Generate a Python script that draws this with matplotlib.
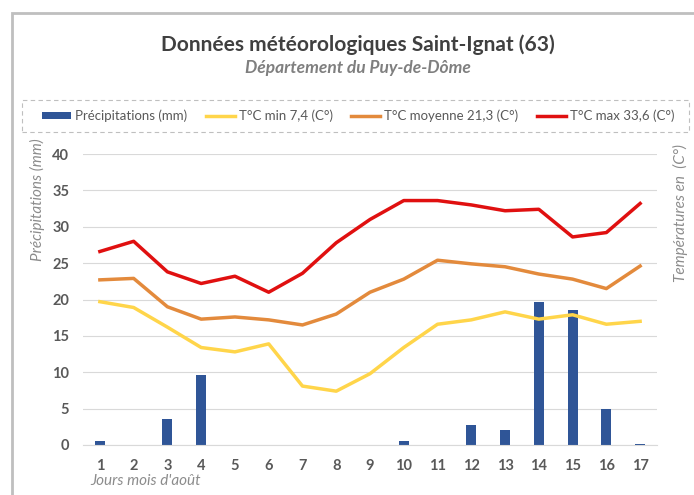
import numpy as np
import matplotlib.pyplot as plt
from matplotlib.patches import Rectangle

plt.rcParams['font.family'] = ['Lato', 'DejaVu Sans']

# Data
days = list(range(1, 18))
precip = [0.5, 0, 3.6, 9.6, 0, 0, 0, 0, 0, 0.5, 0, 2.8, 2.1, 19.6, 18.5, 5.0, 0.2]
t_min = [19.7, 18.9, 16.2, 13.4, 12.8, 13.9, 8.1, 7.4, 9.8, 13.4, 16.6, 17.2, 18.3, 17.3, 17.9, 16.6, 17.0]
t_moy = [22.7, 22.9, 19.0, 17.3, 17.6, 17.2, 16.5, 18.0, 21.0, 22.8, 25.4, 24.9, 24.5, 23.5, 22.8, 21.5, 24.6]
t_max = [26.6, 28.0, 23.8, 22.2, 23.2, 21.0, 23.6, 27.8, 31.0, 33.6, 33.6, 33.0, 32.2, 32.4, 28.6, 29.2, 33.2]

c_bar = '#2F5597'
c_min = '#FFD54A'
c_moy = '#E38A3C'
c_max = '#E01010'
c_txt = '#595959'

fig = plt.figure(figsize=(6.94, 4.95), dpi=100)

# outer chart border (cropped on the right/bottom)
fig.patches.append(Rectangle((12 / 694, -0.05), 2, 1 - 13 / 495 + 0.05,
                             transform=fig.transFigure, fill=False,
                             edgecolor='#BFBFBF', linewidth=2))

ax = fig.add_axes([83 / 694, 1 - 445 / 495, (657 - 83) / 694, (445 - 154) / 495])

h_bar = ax.bar(days, precip, width=0.3, color=c_bar, label='Précipitations (mm)', zorder=2)
h_min, = ax.plot(days, t_min, color=c_min, linewidth=2.5, label='T°C min 7,4 (C°)', zorder=3)
h_moy, = ax.plot(days, t_moy, color=c_moy, linewidth=2.5, label='T°C moyenne 21,3 (C°)', zorder=3)
h_max, = ax.plot(days, t_max, color=c_max, linewidth=2.5, label='T°C max 33,6 (C°)', zorder=3)

ax.set_xlim(0.5, 17.5)
ax.set_ylim(0, 40)
ax.set_yticks(range(0, 41, 5))
ax.set_xticks(days)
ax.grid(axis='y', color='#D9D9D9', linewidth=0.8, zorder=0)
for s in ['top', 'right', 'left']:
    ax.spines[s].set_visible(False)
ax.spines['bottom'].set_color('#D9D9D9')
ax.tick_params(length=0, labelsize=10.5, labelcolor=c_txt, pad=10)
for lab in ax.get_xticklabels() + ax.get_yticklabels():
    lab.set_fontweight('bold')
ax.tick_params(axis='y', pad=10)

fig.text(37 / 694, 1 - 200 / 495, 'Précipitations (mm)', rotation=90, style='italic',
         color='#8C8C8C', fontsize=11, ha='center', va='center')
fig.text(680 / 694, 1 - 213 / 495, 'Températures en  (C°)', rotation=90, style='italic',
         color='#8C8C8C', fontsize=11, ha='center', va='center')
fig.text(90 / 694, 1 - 481 / 495, "Jours mois d'août", style='italic', color='#8C8C8C',
         fontsize=11, ha='left', va='center')

fig.text(358 / 694, 1 - 45 / 495, 'Données météorologiques Saint-Ignat (63)', fontsize=15,
         fontweight='bold', color='#404040', ha='center', va='center')
fig.text(358 / 694, 1 - 68 / 495, 'Département du Puy-de-Dôme', fontsize=12.5, style='italic',
         fontweight='bold', color='#7F7F7F', ha='center', va='center')

# dashed legend frame
fig.patches.append(Rectangle((22 / 694, 1 - 132 / 495), (689 - 22) / 694, 32 / 495,
                             transform=fig.transFigure, fill=False, edgecolor='#BFBFBF',
                             linewidth=0.8, linestyle=(0, (4, 3))))
leg = fig.legend([h_bar, h_min, h_moy, h_max],
                 ['Précipitations (mm)', 'T°C min 7,4 (C°)', 'T°C moyenne 21,3 (C°)', 'T°C max 33,6 (C°)'],
                 loc='center', bbox_to_anchor=(358 / 694, 1 - 116 / 495), ncol=4,
                 frameon=False, fontsize=9.5, handlelength=2.2, handleheight=0.5,
                 handletextpad=0.3, columnspacing=1.4)
for t in leg.get_texts():
    t.set_color(c_txt)

fig.savefig('out.png', dpi=100)
